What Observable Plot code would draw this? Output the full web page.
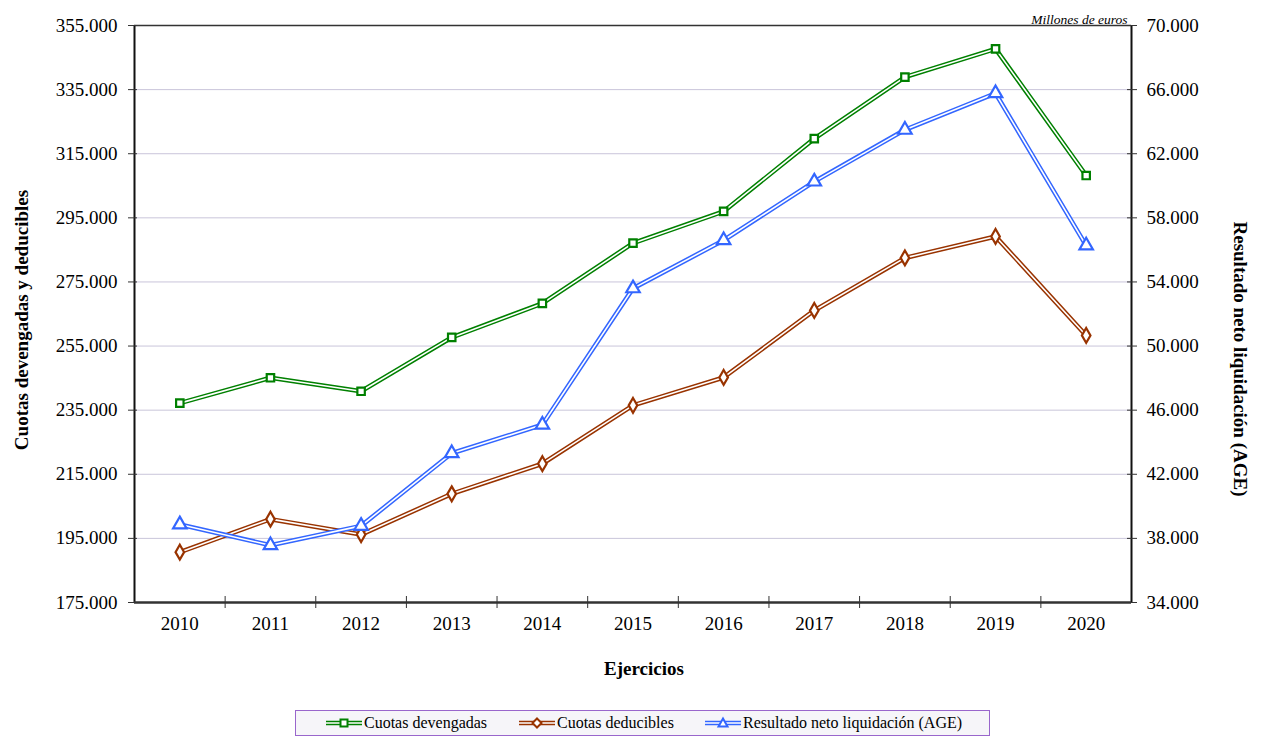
<!DOCTYPE html>
<html>
<head>
<meta charset="utf-8">
<script src="https://cdn.jsdelivr.net/npm/d3@7"></script>
<script src="https://cdn.jsdelivr.net/npm/@observablehq/plot@0.6"></script>
<style>
  html, body { margin: 0; padding: 0; background: #fff; }
  #wrap { position: relative; width: 1262px; height: 736px; font-family: "Liberation Serif", "Times New Roman", serif; }
  #legend { position: absolute; left: 295px; top: 710px; width: 693px; height: 24px; border: 1px solid #9966cc; background: #f6f5f9; box-sizing: content-box; }
  .item { position: absolute; top: 0; height: 24px; display: flex; align-items: center; font-size: 16px; color: #000; white-space: nowrap; }
  .item svg { margin-right: 1px; }
</style>
</head>
<body>
<div id="wrap">
  <div id="chart"></div>
  <div id="legend"></div>
</div>
<script>
const years = ["2010","2011","2012","2013","2014","2015","2016","2017","2018","2019","2020"];
const devengadas = [237200, 245100, 240900, 257700, 268300, 287100, 297000, 319700, 338900, 347700, 308200];
const deducibles = [190700, 201000, 196200, 208900, 218300, 236500, 245200, 266100, 282500, 289200, 258300];
const resultado = [38870, 37570, 38780, 43310, 45090, 53600, 56600, 60260, 63490, 65770, 56270];
const leftTicks = [175000, 195000, 215000, 235000, 255000, 275000, 295000, 315000, 335000, 355000];
const rightTicks = [34000, 38000, 42000, 46000, 50000, 54000, 58000, 62000, 66000, 70000];
const seriesNames = ["Cuotas devengadas", "Cuotas deducibles", "Resultado neto liquidación (AGE)"];
const colors = ["#008000", "#993300", "#3366ff"];
const symbols = ["square", "diamond", "triangle"];

const leftDomain = [leftTicks[0], leftTicks[leftTicks.length - 1]];
const rightDomain = [rightTicks[0], rightTicks[rightTicks.length - 1]];
const factor = (leftDomain[1] - leftDomain[0]) / (rightDomain[1] - rightDomain[0]);
const toLeft = v => leftDomain[0] + (v - rightDomain[0]) * factor;
const toRight = v => rightDomain[0] + (v - leftDomain[0]) / factor;

const fmt = d3.formatLocale({decimal: ",", thousands: ".", grouping: [3]}).format(",.0f");

const rows = [];
years.forEach((y, i) => {
  rows.push({i, series: seriesNames[0], v: devengadas[i]});
  rows.push({i, series: seriesNames[1], v: deducibles[i]});
  rows.push({i, series: seriesNames[2], v: toLeft(resultado[i])});
});

const W = 1262, H = 705, mL = 134, mR = 131, mT = 25, mB = 103;
const frameW = W - mL - mR, frameH = H - mT - mB;
const separators = d3.range(0.5, years.length - 1, 1);
const gridTicks = leftTicks.slice(1, -1);

const marks = [
  Plot.ruleY(gridTicks, {stroke: "#c9c5da", strokeWidth: 1}),
  Plot.ruleY([leftDomain[1]], {stroke: "#333", strokeWidth: 1.5}),
];
seriesNames.forEach((s, k) => {
  const data = rows.filter(r => r.series === s);
  marks.push(Plot.line(data, {x: "i", y: "v", stroke: colors[k], strokeWidth: 4.6}));
  marks.push(Plot.line(data, {x: "i", y: "v", stroke: "#fff", strokeWidth: 1.6}));
});
seriesNames.forEach((s, k) => {
  const data = rows.filter(r => r.series === s);
  const r = k === 0 ? 4.2 : k === 1 ? 4.5 : 5;
  marks.push(Plot.dot(data, {x: "i", y: "v", symbol: () => symbols[k], r, stroke: colors[k], strokeWidth: 2.2, fill: "#fff"}));
});
marks.push(
  Plot.ruleX([-0.5], {stroke: "#111", strokeWidth: 2}),
  Plot.ruleX([years.length - 0.5], {stroke: "#111", strokeWidth: 2}),
  Plot.ruleY([leftDomain[0]], {stroke: "#333", strokeWidth: 2.5}),
  Plot.tickX(separators, {x: d => d, stroke: "#333", strokeWidth: 1, insetTop: frameH - 6, insetBottom: -6}),
  Plot.tickY(leftTicks, {y: d => d, stroke: "#333", strokeWidth: 1, insetLeft: -6, insetRight: frameW - 3}),
  Plot.tickY(leftTicks, {y: d => d, stroke: "#333", strokeWidth: 1, insetLeft: frameW - 4, insetRight: -6}),
  Plot.axisY({ticks: leftTicks, tickFormat: fmt, tickSize: 0, tickPadding: 17, anchor: "left", fontSize: 19, label: null}),
  Plot.axisY({ticks: leftTicks, tickFormat: v => fmt(toRight(v)), tickSize: 0, tickPadding: 15, anchor: "right", fontSize: 19, label: null}),
  Plot.axisX({ticks: d3.range(years.length), tickFormat: i => years[i], tickSize: 0, tickPadding: 14, fontSize: 19, label: null}),
  Plot.text(["Cuotas devengadas y deducibles"], {text: d => d, frameAnchor: "left", textAnchor: "middle", dx: -113, dy: 6, rotate: -90, fontSize: 19, fontWeight: "bold"}),
  Plot.text(["Resultado neto liquidación (AGE)"], {text: d => d, frameAnchor: "right", textAnchor: "middle", dx: 109, dy: 45, rotate: 90, fontSize: 19, fontWeight: "bold"}),
  Plot.text(["Ejercicios"], {text: d => d, frameAnchor: "bottom", dx: 11, dy: 72, fontSize: 19, fontWeight: "bold"}),
  Plot.text(["Millones de euros"], {text: d => d, frameAnchor: "top-right", textAnchor: "end", dx: -4, dy: -11, fontSize: 13.5, fontStyle: "italic"})
);

const chart = Plot.plot({
  width: W, height: H,
  marginLeft: mL, marginRight: mR, marginTop: mT, marginBottom: mB,
  style: {fontFamily: '"Liberation Serif", "Times New Roman", serif', color: "#000", background: "#fff", overflow: "visible"},
  x: {type: "linear", domain: [-0.5, years.length - 0.5], axis: null},
  y: {domain: leftDomain, axis: null},
  marks
});
document.getElementById("chart").appendChild(chart);

// Legend
const legend = document.getElementById("legend");
const positions = [29, 222, 408];
const symPaths = [
  "M-3.5,-3.5h7v7h-7z",
  "M0,-4.5L4.5,0L0,4.5L-4.5,0z",
  "M0,-4.5L4.5,3.5L-4.5,3.5z"
];
seriesNames.forEach((s, k) => {
  const div = document.createElement("div");
  div.className = "item";
  div.style.left = positions[k] + "px";
  div.innerHTML = `<svg width="38" height="14" viewBox="0 0 38 14">
    <line x1="1" y1="7" x2="37" y2="7" stroke="${colors[k]}" stroke-width="4.6"/>
    <line x1="1" y1="7" x2="37" y2="7" stroke="#fff" stroke-width="1.6"/>
    <path transform="translate(19,7)" d="${symPaths[k]}" fill="#fff" stroke="${colors[k]}" stroke-width="2"/>
  </svg><span>${s}</span>`;
  legend.appendChild(div);
});
</script>
</body>
</html>
